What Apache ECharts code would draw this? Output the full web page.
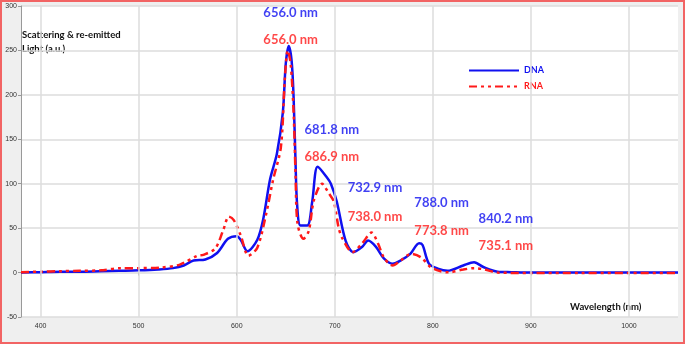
<!DOCTYPE html>
<html>
<head>
<meta charset="utf-8">
<script src="https://cdn.jsdelivr.net/npm/echarts@6/dist/echarts.min.js"></script>
<style>
    html, body { margin: 0; padding: 0; }
    #chart { width: 685px; height: 344px; }
</style>
</head>
<body>
<div id="chart"></div>
<script>
// wavelength (nm) / intensity pairs
const dnaX = [380, 400, 420, 440, 460, 480, 500, 520, 535, 546, 556, 568, 580, 591, 600, 604, 611, 621, 627, 634, 641, 647, 650, 653, 656, 658, 660, 661.5, 665, 672, 677, 682.5, 692, 696, 702, 711, 719, 728, 734, 742, 750, 759, 767, 777, 786, 789.5, 796, 805, 815, 831, 842, 852, 866, 880, 900, 950, 1000, 1050];
const dnaY = [0, 0.5, 1, 1, 1.5, 2, 2.5, 3.5, 5, 8, 13.5, 14.7, 22, 38, 41, 37, 24, 37, 60, 105, 134, 180, 235, 255, 238, 197, 123, 78, 53, 53, 80, 119, 107, 100, 80, 36, 23, 29, 36, 29, 16, 10, 13.5, 21, 33, 31, 10, 4.5, 2, 8, 11.5, 6, 1, 0.5, 0, 0, 0, 0];

const rnaX = [380, 400, 420, 440, 461, 482, 500, 522, 542, 560, 566, 578, 586, 592, 597, 604, 612, 621, 630, 637, 645, 649, 652, 655, 658, 660, 662, 668, 673.5, 678.6, 687, 694, 699, 704, 708, 718, 728, 737.5, 744, 750, 759, 767, 778, 788, 798, 808, 816, 831, 842, 853, 866, 900, 950, 1000, 1050];
const rnaY = [0.5, 1, 1.5, 2, 2.5, 5, 5, 5.6, 9, 19, 20, 27, 47, 63, 59, 42, 19, 28, 66, 104, 141, 217, 250, 235, 180, 110, 55, 38, 47, 81, 100, 89, 80, 50, 38, 23, 33, 45, 33, 17, 8, 13.5, 21, 17, 6, 1.5, 0.3, 3.4, 5, 3.4, 0, -0.5, -0.5, -0.5, -0.5];

const xTicks = [400, 500, 600, 700, 800, 900, 1000];

// peak labels
const dnaLabelX = [655, 697, 741, 809, 874.5];
const dnaLabelY = [292, 161, 95, 78, 61];
const dnaLabelText = ['656.0 nm', '681.8 nm', '732.9 nm', '788.0 nm', '840.2 nm'];
const rnaLabelX = [655, 697, 741, 809, 874.5];
const rnaLabelY = [262, 130, 63, 47, 30];
const rnaLabelText = ['656.0 nm', '686.9 nm', '738.0 nm', '773.8 nm', '735.1 nm'];

const BLUE = '#1010f0';
const RED = '#ff1a1a';

function pairs(xs, ys) {
    return xs.map((x, i) => [x, ys[i]]);
}

function labelSeries(xs, ys, texts, color) {
    return {
        type: 'scatter',
        symbolSize: 0,
        silent: true,
        z: 5,
        label: {
            show: true,
            position: 'inside',
            formatter: p => texts[p.dataIndex],
            color: color,
            fontFamily: 'Lato',
            fontWeight: 'bold',
            fontSize: 13
        },
        data: pairs(xs, ys)
    };
}

const chart = echarts.init(document.getElementById('chart'));

const option = {
    backgroundColor: '#efefef',
    animation: false,
    grid: {
        left: 21,
        right: 7,
        top: 6,
        bottom: 27,
        show: true,
        backgroundColor: '#fff',
        borderWidth: 0
    },
    legend: {
        orient: 'vertical',
        left: 463,
        top: 61,
        itemWidth: 50,
        itemHeight: 10,
        itemGap: 7,
        itemStyle: { opacity: 0 },
        data: [
            { name: 'DNA', textStyle: { color: BLUE } },
            { name: 'RNA', textStyle: { color: RED } }
        ],
        textStyle: {
            fontFamily: 'Lato',
            fontWeight: 'bold',
            fontSize: 9
        }
    },
    xAxis: {
        type: 'value',
        min: 380,
        max: 1050,
        axisLine: { show: false },
        axisTick: {
            show: true,
            customValues: xTicks,
            length: 3,
            lineStyle: { color: '#999' }
        },
        axisLabel: {
            customValues: xTicks,
            formatter: v => String(v),
            fontSize: 7,
            color: '#333',
            margin: 6
        },
        splitLine: { show: false }
    },
    yAxis: {
        type: 'value',
        min: -50,
        max: 300,
        interval: 50,
        axisLine: { show: true, lineStyle: { color: '#999' } },
        axisTick: { show: true, length: 3, lineStyle: { color: '#999' } },
        axisLabel: { fontSize: 7, color: '#333', margin: 4 },
        splitLine: { lineStyle: { color: '#dcdcdc', width: 1.5 } }
    },
    graphic: [
        {
            type: 'text',
            left: 22,
            top: 28,
            style: {
                text: 'Scattering & re-emitted\nLight (a.u.)',
                font: 'bold 9.5px Lato',
                lineHeight: 14,
                fill: '#111'
            }
        },
        {
            type: 'text',
            left: 570,
            top: 302,
            style: {
                text: 'Wavelength (nm)',
                font: 'bold 9.5px Lato',
                fill: '#111'
            }
        },
        {
            type: 'rect',
            shape: { x: 1, y: 1, width: 683, height: 342 },
            style: { fill: 'none', stroke: '#f26464', lineWidth: 2 },
            z: 100
        }
    ],
    series: [
        {
            name: 'DNA',
            type: 'line',
            symbol: 'none',
            smooth: 0.3,
            z: 3,
            lineStyle: { color: BLUE, width: 2.5 },
            itemStyle: { color: BLUE },
            markLine: {
                silent: true,
                symbol: 'none',
                label: { show: false },
                lineStyle: { color: '#dcdcdc', width: 1.5, type: 'solid' },
                data: xTicks.map(v => ({ xAxis: v }))
            },
            data: pairs(dnaX, dnaY)
        },
        {
            name: 'RNA',
            type: 'line',
            symbol: 'none',
            smooth: 0.3,
            z: 4,
            lineStyle: { color: RED, width: 2.5, type: [8, 4, 3, 4, 3, 4] },
            itemStyle: { color: RED },
            data: pairs(rnaX, rnaY)
        },
        labelSeries(dnaLabelX, dnaLabelY, dnaLabelText, BLUE),
        labelSeries(rnaLabelX, rnaLabelY, rnaLabelText, RED)
    ]
};

chart.setOption(option);
</script>
</body>
</html>
